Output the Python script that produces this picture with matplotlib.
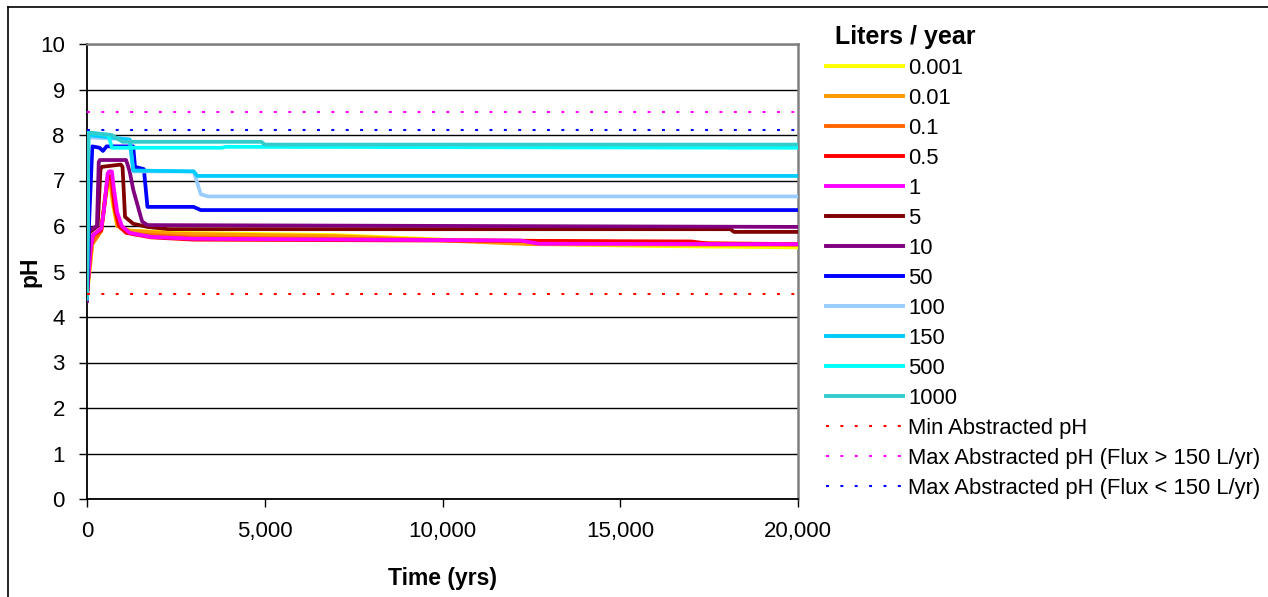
import matplotlib
matplotlib.use('Agg')
import matplotlib.pyplot as plt
from matplotlib.lines import Line2D
from matplotlib.ticker import FuncFormatter, MultipleLocator

plt.rcParams['font.family'] = ['Liberation Sans', 'DejaVu Sans']

# ---------------- data ----------------
series_labels = ['0.001', '0.01', '0.1', '0.5', '1', '5', '10', '50', '100', '150', '500', '1000']
series_colors = ['#FFFF00', '#FF9900', '#FF6600', '#FF0000', '#FF00FF', '#800000',
                 '#800080', '#0000FF', '#99CCFF', '#00CCFF', '#00FFFF', '#33CCCC']

t_0001 = [0, 150, 400, 500, 600, 660, 720, 850, 1200, 2500, 7000, 13000, 16000, 20000]
ph_0001 = [4.5, 5.6, 5.9, 6.5, 6.95, 6.95, 6.5, 6.0, 5.9, 5.85, 5.8, 5.6, 5.56, 5.53]

t_001 = [0, 150, 400, 500, 600, 650, 720, 850, 1200, 2500, 5000, 7000, 12500, 20000]
ph_001 = [4.5, 5.6, 5.9, 6.6, 7.0, 7.0, 6.6, 6.0, 5.9, 5.83, 5.8, 5.78, 5.6, 5.58]

t_01 = [0, 120, 400, 480, 580, 640, 700, 800, 950, 1300, 3000, 12000, 20000]
ph_01 = [4.5, 5.6, 5.9, 6.4, 7.05, 7.05, 6.9, 6.3, 5.95, 5.82, 5.75, 5.68, 5.6]

t_05 = [0, 100, 170, 400, 480, 580, 650, 700, 780, 900, 1100, 1800, 3000, 17000, 17500, 20000]
ph_05 = [4.5, 5.5, 5.8, 5.9, 6.4, 7.05, 7.1, 7.0, 6.4, 6.0, 5.85, 5.75, 5.7, 5.66, 5.61, 5.6]

t_1 = [0, 100, 170, 400, 470, 580, 620, 700, 760, 850, 980, 1200, 1800, 3000, 12200, 12700, 20000]
ph_1 = [4.5, 5.5, 5.8, 5.95, 6.3, 7.15, 7.2, 7.2, 6.8, 6.3, 6.0, 5.85, 5.76, 5.72, 5.68, 5.61, 5.6]

t_5 = [0, 60, 300, 380, 420, 950, 1000, 1070, 1300, 1700, 2300, 18100, 18200, 20000]
ph_5 = [4.4, 5.85, 6.0, 7.25, 7.3, 7.35, 7.3, 6.2, 6.05, 5.98, 5.93, 5.93, 5.87, 5.87]

t_10 = [0, 60, 280, 330, 360, 1100, 1200, 1300, 1550, 1700, 20000]
ph_10 = [4.35, 5.9, 6.0, 7.4, 7.45, 7.45, 7.2, 6.8, 6.1, 6.02, 5.98]

t_50 = [0, 50, 150, 350, 450, 550, 1300, 1350, 1600, 1700, 3000, 3200, 20000]
ph_50 = [4.4, 5.9, 7.75, 7.72, 7.65, 7.75, 7.75, 7.3, 7.25, 6.42, 6.42, 6.35, 6.35]

t_100 = [0, 40, 1200, 1300, 3000, 3200, 3400, 20000]
ph_100 = [4.5, 7.95, 7.9, 7.2, 7.2, 6.7, 6.65, 6.65]

t_150 = [0, 40, 1200, 1300, 3000, 3100, 20000]
ph_150 = [4.5, 8.0, 7.9, 7.22, 7.2, 7.1, 7.1]

t_500 = [0, 40, 600, 700, 3800, 3900, 20000]
ph_500 = [4.5, 8.05, 8.0, 7.72, 7.72, 7.74, 7.72]

t_1000 = [0, 30, 100, 700, 1000, 4900, 5000, 20000]
ph_1000 = [4.4, 8.0, 8.05, 8.0, 7.85, 7.85, 7.79, 7.79]

ref_labels = ['Min Abstracted pH', 'Max Abstracted pH (Flux > 150 L/yr)',
              'Max Abstracted pH (Flux < 150 L/yr)']
ref_values = [4.5, 8.5, 8.1]
ref_colors = ['#FF0000', '#FF00FF', '#0000FF']
ref_t = [0, 20000]

series_t = [t_0001, t_001, t_01, t_05, t_1, t_5, t_10, t_50, t_100, t_150, t_500, t_1000]
series_ph = [ph_0001, ph_001, ph_01, ph_05, ph_1, ph_5, ph_10, ph_50, ph_100, ph_150, ph_500, ph_1000]

# ---------------- figure ----------------
W, H = 1268, 597
fig = plt.figure(figsize=(W / 100, H / 100), dpi=100)
ax = fig.add_axes([87 / W, 1 - 499 / H, (798 - 87) / W, (499 - 44) / H])

handles = []
for t, ph, lab, col in zip(series_t, series_ph, series_labels, series_colors):
    h, = ax.plot(t, ph, color=col, lw=2.7, label=lab, solid_joinstyle='round', zorder=3)
    handles.append(h)
for val, lab, col in zip(ref_values, ref_labels, ref_colors):
    h, = ax.plot(ref_t, [val, val], color=col, lw=1.5, linestyle=(0, (1.4, 5.5)), label=lab, zorder=4)
    handles.append(h)

ax.set_xlim(0, 20000)
ax.set_ylim(0, 10)
ax.xaxis.set_major_locator(MultipleLocator(5000))
ax.yaxis.set_major_locator(MultipleLocator(1))
ax.xaxis.set_major_formatter(FuncFormatter(lambda v, p: f'{int(v):,}'))
ax.grid(axis='y', color='#000000', lw=1.0, zorder=1)
ax.set_axisbelow(True)

for s in ['left', 'bottom']:
    ax.spines[s].set_color('#000000')
    ax.spines[s].set_linewidth(1.3)
for s in ['top', 'right']:
    ax.spines[s].set_color('#808080')
    ax.spines[s].set_linewidth(1.8)

ax.tick_params(axis='y', direction='out', length=6, width=1, labelsize=16, pad=10)
ax.tick_params(axis='x', direction='out', length=6, width=1, labelsize=16, pad=10)

ax.set_xlabel('Time (yrs)', fontsize=16.5, fontweight='bold', labelpad=18)
ax.set_ylabel('pH', fontsize=16.5, fontweight='bold', labelpad=-1)

leg = fig.legend(handles=handles, loc='upper left', bbox_to_anchor=(826 / W, 1 - 25 / H),
                 frameon=False, fontsize=15.8, title='Liters / year',
                 title_fontproperties={'weight': 'bold', 'size': 18},
                 handlelength=3.5, handletextpad=0.25, labelspacing=0.41,
                 borderpad=0, borderaxespad=0, alignment='left')
for lh in leg.get_lines():
    if lh.get_linestyle() == '-':
        lh.set_linewidth(2.8)
leg.get_title().set_position((9, 0))

# outer frame (left and top edges)
fig.add_artist(Line2D([8 / W, 8 / W], [0, 1 - 7 / H], color='#000000', lw=1.2, transform=fig.transFigure))
fig.add_artist(Line2D([8 / W, 1], [1 - 7 / H, 1 - 7 / H], color='#000000', lw=1.2, transform=fig.transFigure))

fig.savefig('out.png', dpi=100, facecolor='white')
